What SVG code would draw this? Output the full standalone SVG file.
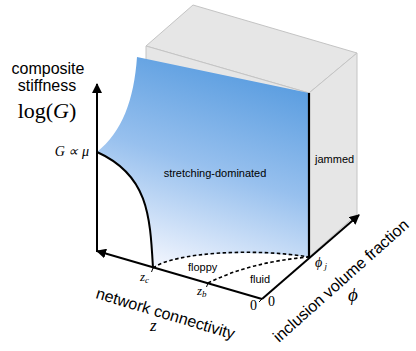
<svg xmlns="http://www.w3.org/2000/svg" width="416" height="351" viewBox="0 0 416 351">
<style>
.box{fill:#e6e6e6;stroke:#c4c4c4;stroke-width:1}
.ax{stroke:#000;stroke-width:2;fill:none}
.cv{stroke:#000;stroke-width:2;fill:none}
.dash{stroke:#000;stroke-width:1.6;fill:none;stroke-dasharray:3.5 2.5}
.sans{font-family:"Liberation Sans",Arial,sans-serif;fill:#000}
.serif{font-family:"Liberation Serif","Times New Roman",serif;fill:#000}
.it{font-style:italic}
</style>
<defs>
<linearGradient id="blue" gradientUnits="userSpaceOnUse" x1="250" y1="70" x2="185" y2="270">
<stop offset="0" stop-color="#5a9de0"/>
<stop offset="0.5" stop-color="#97c0ee"/>
<stop offset="1" stop-color="#eef3fd"/>
</linearGradient>
<marker id="arr" viewBox="0 0 10 10" refX="9" refY="5" markerWidth="5" markerHeight="5" orient="auto" markerUnits="strokeWidth">
<path d="M0,0 L10,5 L0,10 z" fill="#000"/>
</marker>
</defs>

<g id="jammed-box">
<polygon class="box" points="146,46 193,5 357,53 309,93"/>
<polygon class="box" points="309,93 357,53 357,214 309,257"/>
<polygon class="box" points="146,46 309,93 309,257 146,210"/>
</g>

<g id="stretching-surface">
<path d="M137,57 L309,93 L309,257 C255,250 175,252 153,268 C150,215 148,175 97,152 C122,132 134,100 137,57 Z" fill="url(#blue)"/>
<path d="M153,268 C150,215 148,175 97,152" class="cv"/>
<line x1="309" y1="93" x2="309" y2="257" stroke="#000" stroke-width="2.2"/>
</g>

<g id="connectors">
<line class="ax" x1="97" y1="252" x2="97" y2="84" marker-end="url(#arr)"/>
<line class="ax" x1="262" y1="299" x2="97" y2="251" marker-end="url(#arr)"/>
<line class="ax" x1="262" y1="299" x2="359" y2="215" marker-end="url(#arr)"/>
<path class="dash" d="M153,268 C175,252 255,248 309,257"/>
<path class="dash" d="M208,283 Q250,262 309,257"/>
<line x1="153" y1="268" x2="151.5" y2="272" stroke="#000" stroke-width="1"/>
<line x1="208" y1="283" x2="206.5" y2="287" stroke="#000" stroke-width="1"/>
<line x1="262" y1="299" x2="259" y2="302" stroke="#000" stroke-width="1"/>
</g>

<g id="labels">
<text class="sans" x="48" y="74" font-size="16" text-anchor="middle">composite</text>
<text class="sans" x="47" y="91" font-size="16" text-anchor="middle">stiffness</text>
<text class="serif" x="47" y="118" font-size="22" text-anchor="middle">log(<tspan class="it">G</tspan>)</text>
<text class="serif it" x="89" y="156" font-size="14" text-anchor="end">G ∝ μ</text>
<text class="sans" x="215" y="177" font-size="11" text-anchor="middle">stretching-dominated</text>
<text class="sans" x="315" y="163" font-size="11">jammed</text>
<text class="sans" x="188" y="271" font-size="11">floppy</text>
<text class="sans" x="250" y="283" font-size="11">fluid</text>
<text class="serif it" x="140" y="281" font-size="13">z<tspan font-size="9" dy="2">c</tspan></text>
<text class="serif it" x="197" y="295" font-size="13">z<tspan font-size="9" dy="2">b</tspan></text>
<text class="serif" x="250" y="310" font-size="14">0</text>
<text class="serif" x="268" y="306" font-size="14">0</text>
<text class="serif it" x="315" y="267" font-size="14">ϕ<tspan font-size="9" dy="2"> j</tspan></text>
<text class="sans" x="95" y="298" font-size="16" transform="rotate(16.7 95 298)">network connectivity</text>
<text class="serif it" x="150" y="331" font-size="17">z</text>
<text class="sans" x="279" y="343" font-size="16" transform="rotate(-41.7 279 343)">inclusion volume fraction</text>
<text class="serif it" x="348" y="301" font-size="19">ϕ</text>
</g>
</svg>
